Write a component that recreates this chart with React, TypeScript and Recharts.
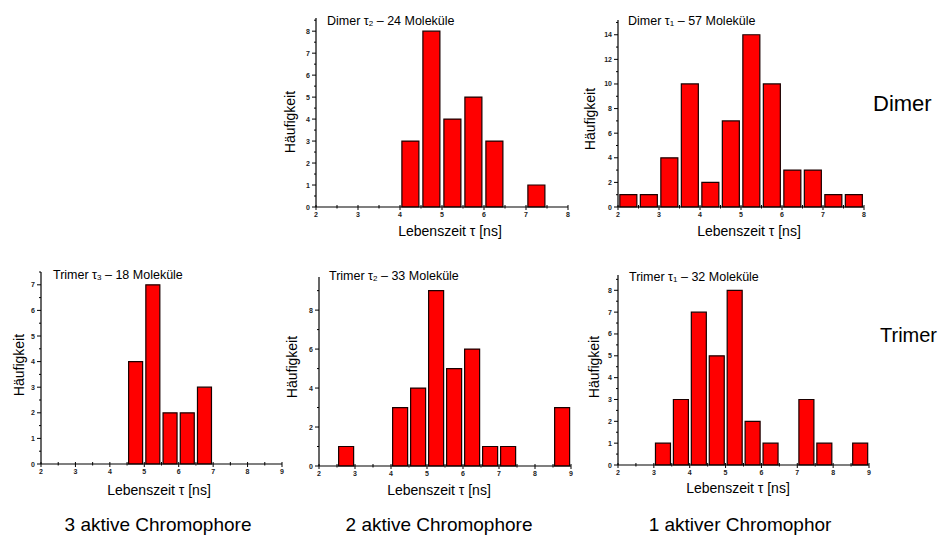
import { BarChart, Bar, XAxis, YAxis } from 'recharts';

// bin centres (0.5 ns bins)
const dimerBins = [2.25, 2.75, 3.25, 3.75, 4.25, 4.75, 5.25, 5.75, 6.25, 6.75, 7.25, 7.75];
const trimerBins = [2.25, 2.75, 3.25, 3.75, 4.25, 4.75, 5.25, 5.75, 6.25, 6.75, 7.25, 7.75, 8.25, 8.75];

// counts per bin
const dimerTau2 = [0, 0, 0, 0, 3, 8, 4, 5, 3, 0, 1, 0];
const dimerTau1 = [1, 1, 4, 10, 2, 7, 14, 10, 3, 3, 1, 1];
const trimerTau3 = [0, 0, 0, 0, 0, 4, 7, 2, 2, 3, 0, 0, 0, 0];
const trimerTau2 = [0, 1, 0, 0, 3, 4, 9, 5, 6, 1, 1, 0, 0, 3];
const trimerTau1 = [0, 0, 1, 3, 7, 5, 8, 2, 1, 0, 3, 1, 0, 1];

const dimerXTicks = [2, 2.5, 3, 3.5, 4, 4.5, 5, 5.5, 6, 6.5, 7, 7.5, 8];
const trimerXTicks = [2, 2.5, 3, 3.5, 4, 4.5, 5, 5.5, 6, 6.5, 7, 7.5, 8, 8.5, 9];

const FONT = '"Liberation Sans", Arial, sans-serif';
const Y_W = 20;
const X_H = 20;
const M_TOP = 4;
const M_RIGHT = 8;

interface PanelProps {
  bins: number[];
  counts: number[];
  xTicks: number[];
  yTicks: number[];
  yMajor: number;
  yTop: number;
  plot: { l: number; t: number; r: number; b: number };
  name: string;
  sub: string;
  n: number;
  yLabel: [number, number];
  xLabel: [number, number];
  titleX: number;
  titleY: number;
}

function XTick(props: any) {
  const { x, y, payload } = props;
  const major = Number.isInteger(payload.value);
  return (
    <g>
      <line x1={x} x2={x} y1={y - 2} y2={y + (major ? 3 : 1.5)} stroke="#000" strokeWidth={1} />
      {major && (
        <text x={x} y={y + 10} textAnchor="middle" fontSize={7} fontWeight="bold" fill="#222" fontFamily={FONT}>
          {payload.value}
        </text>
      )}
    </g>
  );
}

function YTick(props: any) {
  const { x, y, payload, step } = props;
  const major = payload.value % step === 0;
  return (
    <g>
      <line x1={x - (major ? 4 : 2)} x2={x} y1={y} y2={y} stroke="#000" strokeWidth={1} />
      {major && (
        <text x={x - 6} y={y + 2.5} textAnchor="end" fontSize={7} fontWeight="bold" fill="#222" fontFamily={FONT}>
          {payload.value}
        </text>
      )}
    </g>
  );
}

function Panel(p: PanelProps) {
  const data = p.bins.map((t, i) => ({ t, n: p.counts[i] }));
  const plotW = p.plot.r - p.plot.l;
  const plotH = p.plot.b - p.plot.t;
  const xMin = p.xTicks[0];
  const xMax = p.xTicks[p.xTicks.length - 1];
  return (
    <>
      <div style={{ position: 'absolute', left: p.plot.l - Y_W, top: p.plot.t - M_TOP }}>
        <BarChart
          width={Y_W + plotW + M_RIGHT}
          height={M_TOP + plotH + X_H}
          data={data}
          margin={{ top: M_TOP, right: M_RIGHT, left: 0, bottom: 0 }}
          barCategoryGap="9%"
        >
          <XAxis
            dataKey="t"
            type="number"
            domain={[xMin, xMax]}
            ticks={p.xTicks}
            interval={0}
            height={X_H}
            tickSize={0}
            tickMargin={0}
            tickLine={false}
            axisLine={{ stroke: '#000', strokeWidth: 1.2 }}
            tick={(tp: any) => <XTick {...tp} />}
          />
          <YAxis
            type="number"
            domain={[0, p.yTop]}
            ticks={p.yTicks}
            interval={0}
            width={Y_W}
            tickSize={0}
            tickMargin={0}
            tickLine={false}
            axisLine={{ stroke: '#000', strokeWidth: 1.2 }}
            tick={(tp: any) => <YTick {...tp} step={p.yMajor} />}
          />
          <Bar dataKey="n" fill="#ff0000" stroke="#1a0000" strokeWidth={1.2} isAnimationActive={false} />
        </BarChart>
      </div>
      <div
        style={{
          position: 'absolute',
          left: p.titleX,
          top: p.titleY,
          transform: 'translateY(-50%)',
          fontSize: 12.5,
          whiteSpace: 'nowrap',
          lineHeight: 1,
        }}
      >
        {p.name} τ<span style={{ fontSize: 8, position: 'relative', top: 1 }}>{p.sub}</span> – {p.n} Moleküle
      </div>
      <div
        style={{
          position: 'absolute',
          left: p.yLabel[0],
          top: p.yLabel[1],
          transform: 'translate(-50%, -50%) rotate(-90deg)',
          fontSize: 14,
          whiteSpace: 'nowrap',
          lineHeight: 1,
        }}
      >
        Häufigkeit
      </div>
      <div
        style={{
          position: 'absolute',
          left: p.xLabel[0],
          top: p.xLabel[1],
          transform: 'translate(-50%, -50%)',
          fontSize: 14,
          whiteSpace: 'nowrap',
          lineHeight: 1,
        }}
      >
        Lebenszeit τ [ns]
      </div>
    </>
  );
}

const range = (a: number, b: number, s: number) => {
  const out: number[] = [];
  for (let v = a; v <= b + 1e-9; v += s) out.push(v);
  return out;
};

export default function App() {
  return (
    <div
      style={{
        position: 'absolute',
        left: 0,
        top: 0,
        width: 940,
        height: 537,
        background: '#fff',
        fontFamily: FONT,
        color: '#000',
        overflow: 'hidden',
      }}
    >
      <Panel
        bins={dimerBins}
        counts={dimerTau2}
        xTicks={dimerXTicks}
        yTicks={range(0, 8.5, 0.5)}
        yMajor={1}
        yTop={8.6}
        plot={{ l: 316, t: 18, r: 568, b: 207 }}
        name="Dimer"
        sub="2"
        n={24}
        yLabel={[290, 122]}
        xLabel={[450, 231]}
        titleX={327}
        titleY={21}
      />
      <Panel
        bins={dimerBins}
        counts={dimerTau1}
        xTicks={dimerXTicks}
        yTicks={range(0, 15, 1)}
        yMajor={2}
        yTop={15.2}
        plot={{ l: 618, t: 20, r: 864, b: 207 }}
        name="Dimer"
        sub="1"
        n={57}
        yLabel={[590, 119]}
        xLabel={[749, 231]}
        titleX={628}
        titleY={21}
      />
      <Panel
        bins={trimerBins}
        counts={trimerTau3}
        xTicks={trimerXTicks}
        yTicks={range(0, 7.5, 0.5)}
        yMajor={1}
        yTop={7.5}
        plot={{ l: 41, t: 272, r: 282, b: 464 }}
        name="Trimer"
        sub="3"
        n={18}
        yLabel={[19, 365]}
        xLabel={[159, 490]}
        titleX={53}
        titleY={275}
      />
      <Panel
        bins={trimerBins}
        counts={trimerTau2}
        xTicks={trimerXTicks}
        yTicks={range(0, 9, 1)}
        yMajor={2}
        yTop={9.7}
        plot={{ l: 319, t: 277, r: 571, b: 466 }}
        name="Trimer"
        sub="2"
        n={33}
        yLabel={[292, 367]}
        xLabel={[439, 490]}
        titleX={329}
        titleY={276}
      />
      <Panel
        bins={trimerBins}
        counts={trimerTau1}
        xTicks={trimerXTicks}
        yTicks={range(0, 8.5, 0.5)}
        yMajor={1}
        yTop={8.7}
        plot={{ l: 618, t: 275, r: 869, b: 465 }}
        name="Trimer"
        sub="1"
        n={32}
        yLabel={[594, 367]}
        xLabel={[738, 488]}
        titleX={629}
        titleY={277}
      />
      <div style={{ position: 'absolute', left: 873, top: 104, transform: 'translateY(-50%)', fontSize: 22, lineHeight: 1 }}>
        Dimer
      </div>
      <div style={{ position: 'absolute', left: 880, top: 335, transform: 'translateY(-50%)', fontSize: 20, lineHeight: 1 }}>
        Trimer
      </div>
      {[
        ['3 aktive Chromophore', 158],
        ['2 aktive Chromophore', 439],
        ['1 aktiver Chromophor', 740],
      ].map(([label, cx]) => (
        <div
          key={label as string}
          style={{
            position: 'absolute',
            left: cx as number,
            top: 524,
            transform: 'translate(-50%, -50%)',
            fontSize: 19,
            whiteSpace: 'nowrap',
            lineHeight: 1,
          }}
        >
          {label}
        </div>
      ))}
    </div>
  );
}
